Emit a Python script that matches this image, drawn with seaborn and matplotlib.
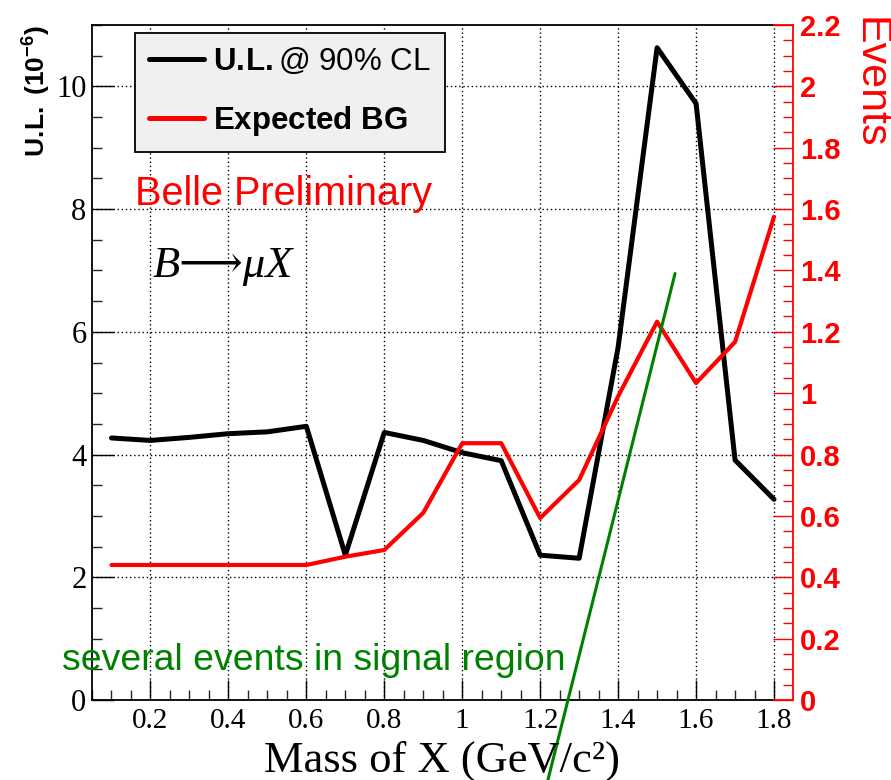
import numpy as np
import pandas as pd
import matplotlib
matplotlib.use("Agg")
import matplotlib.pyplot as plt
from matplotlib.ticker import MultipleLocator, FuncFormatter
from matplotlib.lines import Line2D
import seaborn as sns

# ---------------- data ----------------
mass = [0.1, 0.2, 0.3, 0.4, 0.5, 0.6, 0.7, 0.8, 0.9, 1.0, 1.1, 1.2, 1.3, 1.4, 1.5, 1.6, 1.7, 1.8]
ul_90cl = [4.27, 4.23, 4.28, 4.34, 4.37, 4.46, 2.36, 4.36, 4.23, 4.03, 3.90, 2.36, 2.31, 5.75, 10.63, 9.72, 3.91, 3.27]
expected_bg = [0.44, 0.44, 0.44, 0.44, 0.44, 0.44, 0.467, 0.489, 0.61, 0.837, 0.837, 0.593, 0.717, 0.99, 1.233, 1.033, 1.167, 1.575]
# annotation stroke (left-axis units)
note_x = [1.546, 1.216]
note_y = [6.95, -1.40]

legend_labels = [r"$\mathbf{U.\!L.}$@ 90% CL", r"$\mathbf{Expected\ BG}$"]

df = pd.DataFrame({"mass": mass, "ul": ul_90cl, "bg": expected_bg})

# ---------------- style ----------------
sns.set_style("white")
plt.rcParams["mathtext.fontset"] = "custom"
plt.rcParams["mathtext.rm"] = "Liberation Sans"
plt.rcParams["mathtext.bf"] = "Liberation Sans:bold"
plt.rcParams["mathtext.it"] = "Liberation Sans:italic"
plt.rcParams["font.family"] = ["Liberation Sans", "DejaVu Sans"]
plt.rcParams["text.color"] = "black"
plt.rcParams["axes.labelcolor"] = "black"

W, H = 891, 780
fig = plt.figure(figsize=(W / 100, H / 100), dpi=100)
L, R, T, B = 92, 793, 25, 700
ax = fig.add_axes([L / W, 1 - B / H, (R - L) / W, (B - T) / H])
ax2 = ax.twinx()

XMIN, XEND, XMAX = 0.05, 1.8, 1.8487

sns.lineplot(data=df, x="mass", y="ul", ax=ax, color="black", linewidth=3.6, zorder=3)
sns.lineplot(data=df, x="mass", y="bg", ax=ax2, color="#ff0000", linewidth=3.0, zorder=3)
ax2.plot(note_x, note_y, color="#008000", linewidth=2.2, transform=ax.transData,
         clip_on=False, zorder=5)

ax.set_xlim(XMIN, XMAX)
ax.set_ylim(0, 11)
ax2.set_ylim(0, 2.2)
ax.set_xlabel("")
ax.set_ylabel("")
ax2.set_ylabel("")

fmt = FuncFormatter(lambda v, p: f"{round(v, 3):g}")

ax.xaxis.set_major_locator(MultipleLocator(0.2))
ax.xaxis.set_minor_locator(MultipleLocator(0.05))
ax.xaxis.set_major_formatter(fmt)
ax.yaxis.set_major_locator(MultipleLocator(2))
ax.yaxis.set_minor_locator(MultipleLocator(0.5))
ax.yaxis.set_major_formatter(fmt)
ax2.yaxis.set_major_locator(MultipleLocator(0.2))
ax2.yaxis.set_minor_locator(MultipleLocator(0.05))
ax2.yaxis.set_major_formatter(fmt)

ax.tick_params(axis="x", which="major", direction="in", length=14.5, width=1.0,
               top=False, bottom=True, pad=6, labelsize=21, colors="black")
ax.tick_params(axis="x", which="minor", direction="in", length=7, width=1.0,
               top=False, bottom=True)
ax.tick_params(axis="y", which="major", direction="in", length=16, width=1.0,
               left=True, right=False, pad=4, labelsize=22, colors="black")
ax.tick_params(axis="y", which="minor", direction="in", length=7.5, width=1.0,
               left=True, right=False)
for lab in ax.get_xticklabels() + ax.get_yticklabels():
    lab.set_fontfamily(["Liberation Serif", "DejaVu Serif"])

ax2.tick_params(axis="y", which="major", direction="in", length=14.5, width=1.0,
                right=True, left=False, pad=5, labelsize=21, colors="#ff0000")
ax2.tick_params(axis="y", which="minor", direction="in", length=7, width=1.0,
                right=True, left=False, colors="#ff0000")
for lab in ax2.get_yticklabels():
    lab.set_fontweight("bold")
ax2.tick_params(axis="x", which="both", bottom=False, top=False)

ax.grid(True, which="major", axis="both", color="black", linestyle=(0, (1, 2)),
        linewidth=1.0)
ax.set_axisbelow(True)

for s in ["left", "top", "bottom"]:
    ax.spines[s].set_color("black")
    ax.spines[s].set_linewidth(1.3)
ax.spines["right"].set_visible(False)
ax.spines["top"].set_bounds(XMIN, XEND)
ax.spines["bottom"].set_bounds(XMIN, XEND)
ax2.spines["left"].set_visible(False)
for s in ["right", "top", "bottom"]:
    ax2.spines[s].set_color("#ff0000")
    ax2.spines[s].set_linewidth(1.3)
ax2.spines["top"].set_bounds(XEND, XMAX)
ax2.spines["bottom"].set_bounds(XEND, XMAX)

handles = [Line2D([], [], color="black", linewidth=3.6),
           Line2D([], [], color="#ff0000", linewidth=3.6)]
leg = ax2.legend(handles, legend_labels, loc="upper left",
                 bbox_to_anchor=((135 - L) / (R - L), 1 - (33 - T) / (B - T)),
                 borderaxespad=0, fontsize=22.5, frameon=True, fancybox=False,
                 facecolor="#f0f0f0", edgecolor="black", framealpha=1,
                 handlelength=1.75, handletextpad=0.3, borderpad=0.45,
                 labelspacing=0.85)
leg.get_frame().set_linewidth(1.3)
leg.set_zorder(10)

fig.text(135 / W, 1 - 205 / H, "Belle Preliminary", color="#ff0000", fontsize=28.5,
         ha="left", va="baseline")
fig.text(153 / W, 1 - 277 / H, "B⟶μX", fontsize=32, style="italic",
         family=["Liberation Serif", "DejaVu Serif", "DejaVu Sans"], ha="left", va="baseline")
fig.text(62 / W, 1 - 670 / H, "several events in signal region", color="#008000",
         fontsize=26.9, ha="left", va="baseline")

fig.text(442 / W, 1 - 772 / H, "Mass of X (GeV/c²)", fontsize=32,
         family=["Liberation Serif", "DejaVu Serif"], ha="center", va="baseline")
fig.text(37 / W, 1 - 25 / H, r"$\mathbf{U.\!L.\ (10^{-6})}$", fontsize=19,
         rotation=90, ha="center", va="top")
fig.text(869 / W, 1 - 17 / H, "Events", fontsize=31, color="#ff0000",
         rotation=-90, ha="center", va="top")

fig.savefig("out.png", dpi=100)
